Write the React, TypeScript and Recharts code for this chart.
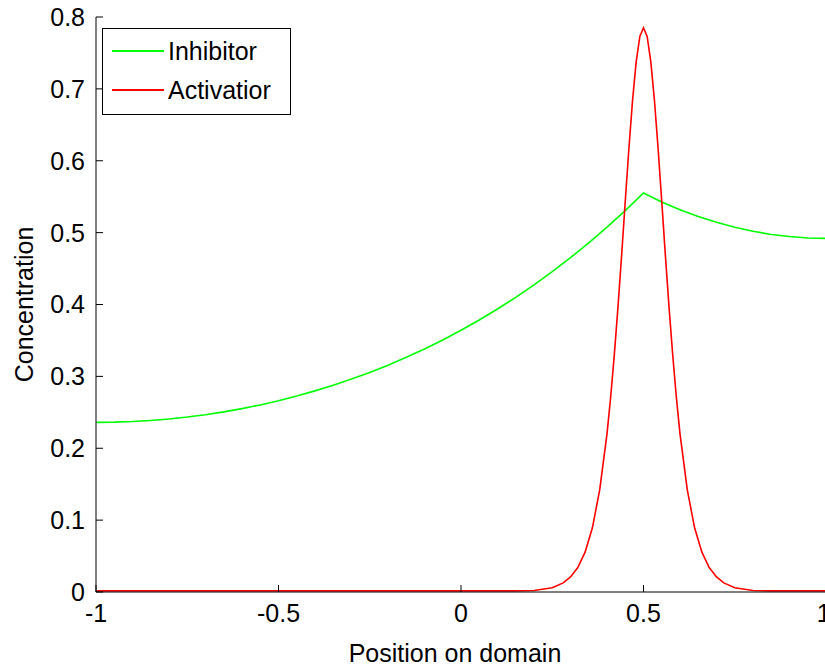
import { LineChart, Line, XAxis, YAxis } from 'recharts';

const FONT = '"Liberation Sans", Arial, Helvetica, sans-serif';

// positions and values
const inhibitorX = [
  -1, -0.95, -0.9, -0.85, -0.8, -0.75, -0.7, -0.65, -0.6, -0.55, -0.5, -0.45, -0.4, -0.35, -0.3,
  -0.25, -0.2, -0.15, -0.1, -0.05, 0, 0.05, 0.1, 0.15, 0.2, 0.25, 0.3, 0.35, 0.4, 0.45, 0.5,
  0.55, 0.6, 0.65, 0.7, 0.75, 0.8, 0.85, 0.9, 0.95, 1,
];
const inhibitorY = [
  0.236, 0.2363, 0.2372, 0.2387, 0.2407, 0.2434, 0.2467, 0.2506, 0.2551, 0.2603, 0.2661, 0.2726,
  0.2798, 0.2876, 0.2962, 0.3055, 0.3156, 0.3265, 0.3382, 0.3507, 0.3642, 0.3785, 0.3938, 0.41,
  0.4273, 0.4457, 0.4651, 0.4858, 0.5076, 0.5307, 0.5552, 0.5427, 0.5319, 0.5225, 0.5143, 0.5074,
  0.5019, 0.4975, 0.4945, 0.4926, 0.492,
];

const activatorX = [
  -1, 0.1, 0.15, 0.2, 0.25, 0.28, 0.3, 0.32, 0.34, 0.36, 0.38, 0.4, 0.41, 0.42, 0.43, 0.44, 0.45,
  0.46, 0.47, 0.48, 0.49, 0.5, 0.51, 0.52, 0.53, 0.54, 0.55, 0.56, 0.57, 0.58, 0.59, 0.6, 0.62,
  0.64, 0.66, 0.68, 0.7, 0.72, 0.75, 0.8, 0.85, 0.9, 1,
];
const activatorY = [
  0.0015, 0.0015, 0.0015, 0.002, 0.006, 0.0127, 0.0209, 0.0341, 0.0555, 0.0893, 0.142, 0.22, 0.271,
  0.33, 0.396, 0.468, 0.5435, 0.617, 0.684, 0.738, 0.773, 0.785, 0.773, 0.738, 0.684, 0.617,
  0.5435, 0.468, 0.396, 0.33, 0.271, 0.22, 0.142, 0.0893, 0.0555, 0.0341, 0.0209, 0.0127, 0.006,
  0.002, 0.0015, 0.0015, 0.0015,
];

const xTicks = [-1, -0.5, 0, 0.5, 1];
const yTicks = [0, 0.1, 0.2, 0.3, 0.4, 0.5, 0.6, 0.7, 0.8];

const inhibitorData = inhibitorX.map((x, i) => ({ x, y: inhibitorY[i] }));
const activatorData = activatorX.map((x, i) => ({ x, y: activatorY[i] }));

const legendItems = [
  { name: 'Inhibitor', color: '#00ff00' },
  { name: 'Activatior', color: '#ff0000' },
];

const tickStyle = { fontFamily: FONT, fontSize: 25, fill: '#000' };

function LegendBox() {
  return (
    <div
      style={{
        width: 187,
        height: 85,
        border: '1px solid #000',
        background: '#fff',
        fontFamily: FONT,
        fontSize: 25,
        color: '#000',
        boxSizing: 'content-box',
      }}
    >
      {legendItems.map((item, i) => (
        <div
          key={item.name}
          style={{ position: 'absolute', left: 10, top: 23 + i * 39 - 14, height: 28, display: 'flex', alignItems: 'center' }}
        >
          <div style={{ width: 52, height: 2, background: item.color }} />
          <span style={{ marginLeft: 4, lineHeight: '28px' }}>{item.name}</span>
        </div>
      ))}
    </div>
  );
}

export default function App() {
  return (
    <div style={{ position: 'absolute', left: 0, top: 0, width: 825, height: 671, overflow: 'hidden', background: '#fff' }}>
      <LineChart width={830} height={671} margin={{ top: 17, right: 4, bottom: 0, left: 0 }}>
        <XAxis
          dataKey="x"
          type="number"
          domain={[-1, 1]}
          ticks={xTicks}
          allowDataOverflow
          height={79}
          tickSize={-7}
          tickMargin={19}
          stroke="#000"
          tick={tickStyle}
          label={{
            value: 'Position on domain',
            position: 'insideBottom',
            offset: 9,
            dx: -6,
            style: { fontFamily: FONT, fontSize: 25, fill: '#000' },
          }}
        />
        <XAxis
          xAxisId="top"
          orientation="top"
          type="number"
          domain={[-1, 1]}
          ticks={xTicks}
          allowDataOverflow
          height={0}
          tickSize={-7}
          tick={false}
          stroke="#000"
        />
        <YAxis
          type="number"
          domain={[0, 0.8]}
          ticks={yTicks}
          allowDataOverflow
          width={96}
          tickSize={-7}
          tickMargin={18}
          stroke="#000"
          tick={tickStyle}
          label={{
            value: 'Concentration',
            angle: -90,
            position: 'insideLeft',
            offset: 24,
            style: { fontFamily: FONT, fontSize: 25, fill: '#000', textAnchor: 'middle' },
          }}
        />
        <YAxis
          yAxisId="right"
          orientation="right"
          type="number"
          domain={[0, 0.8]}
          ticks={yTicks}
          allowDataOverflow
          width={0}
          tickSize={-7}
          tick={false}
          stroke="#000"
        />
        <Line
          data={inhibitorData}
          dataKey="y"
          name="Inhibitor"
          type="linear"
          stroke="#00ff00"
          strokeWidth={1.6}
          dot={false}
          isAnimationActive={false}
        />
        <Line
          data={activatorData}
          dataKey="y"
          name="Activatior"
          type="linear"
          stroke="#ff0000"
          strokeWidth={1.6}
          dot={false}
          isAnimationActive={false}
        />
      </LineChart>
      <div style={{ position: 'absolute', left: 102, top: 28 }}>
        <LegendBox />
      </div>
    </div>
  );
}
